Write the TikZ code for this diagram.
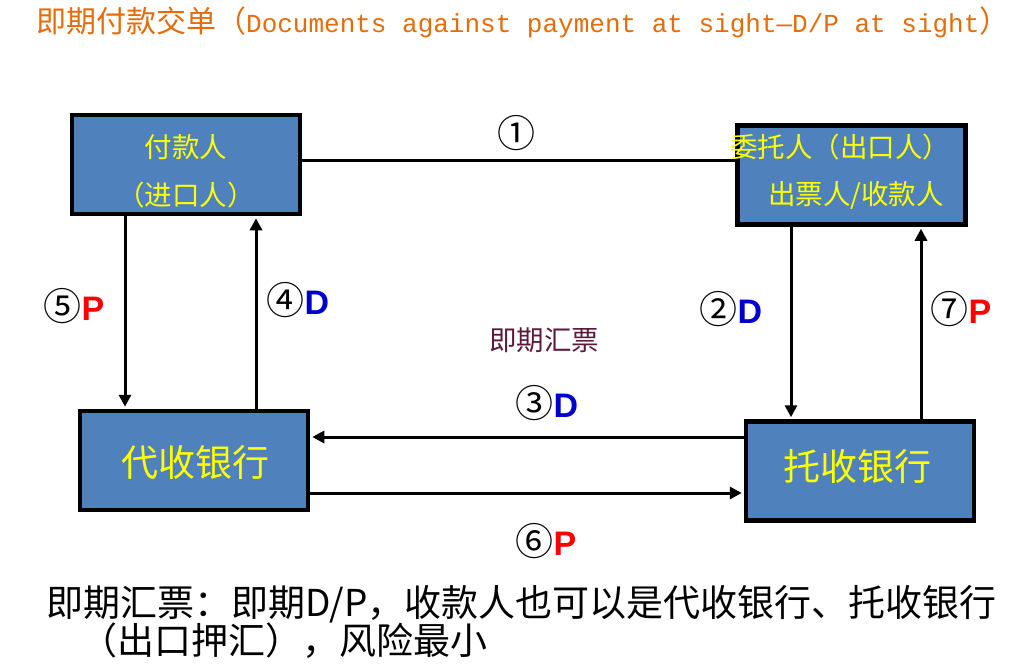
\documentclass[tikz,border=0pt]{standalone}
\usepackage{fontspec}
\usetikzlibrary{arrows.meta}
\setmainfont{Noto Sans CJK SC}
\newfontfamily\cjk{Noto Sans CJK SC}
\newfontfamily\titlemono{Liberation Mono}
\newfontfamily\arialfont{Liberation Sans}
\definecolor{boxblue}{HTML}{4F81BD}
\definecolor{boxtext}{HTML}{FFFF00}
\definecolor{titleorange}{HTML}{E46C0A}
\definecolor{draftred}{HTML}{5B1A3C}
\definecolor{docred}{HTML}{FF0000}
\definecolor{docblue}{HTML}{0000CC}
\newcommand{\docP}{\textcolor{docred}{\arialfont\bfseries\fontsize{34}{34}\selectfont P}}
\newcommand{\docD}{\textcolor{docblue}{\arialfont\bfseries\fontsize{34}{34}\selectfont D}}
\begin{document}
\begin{tikzpicture}[x=1pt,y=-1pt,
  party/.style={draw=black,line width=4.5pt,fill=boxblue,minimum width=228pt,minimum height=99pt,inner sep=0pt},
  partytext/.style={text=boxtext,font=\cjk\fontsize{27.5}{27.5}\selectfont,inner sep=0pt},
  banktext/.style={text=boxtext,font=\cjk\fontsize{37}{37}\selectfont,inner sep=0pt},
  steplabel/.style={font=\fontsize{38}{38}\selectfont,inner sep=0pt},
  flow/.style={line width=3pt,-{Triangle[width=12pt,length=12pt]},shorten >=2pt}]
\useasboundingbox (0,0) rectangle (1036,670);
% title
\node[anchor=west,inner sep=0pt,text=titleorange] (title) at (36,22)
  {\fontsize{30}{30}\selectfont\cjk 即期付款交单（\titlemono\fontsize{26}{26}\selectfont Documents against payment at sight—D/P at sight\cjk\fontsize{30}{30}\selectfont）};
% the four parties
\node[party] (payer) at (186,164.5) {};
\node[party] (drawer) at (851.5,175) {};
\node[party] (coll) at (194,460.5) {};
\node[party] (remit) at (860,471) {};
\node[partytext] (payer1) at (186,147) {付款人};
\node[partytext] (payer2) at (186,195) {（进口人）};
\node[partytext] (drawer1) at (840,147) {委托人（出口人）};
\node[partytext] (drawer2) at (856,195) {出票人/收款人};
\node[banktext] (collname) at (195,462) {代收银行};
\node[banktext] (remitname) at (857,466) {托收银行};
% flows
\draw[line width=3pt] (payer.east |- 0,160) -- (drawer.west |- 0,160);
\draw[flow] (payer.south -| 125,0) -- (coll.north -| 125,0);
\draw[flow] (coll.north -| 256,0) -- (payer.south -| 256,0);
\draw[flow] (drawer.south -| 791,0) -- (remit.north -| 791,0);
\draw[flow] (remit.north -| 921,0) -- (drawer.south -| 921,0);
\draw[flow] (remit.west |- 0,437) -- (coll.east |- 0,437);
\draw[flow] (coll.east |- 0,493) -- (remit.west |- 0,493);
% labels
\node[steplabel] (s1) at (516,133) {①};
\node[steplabel] (s5) at (74,306) {⑤\docP};
\node[steplabel] (s4) at (298,300) {④\docD};
\node[steplabel] (s2) at (731,309) {②\docD};
\node[steplabel] (s7) at (961,309) {⑦\docP};
\node[steplabel] (s3) at (547,403) {③\docD};
\node[steplabel] (s6) at (546,541) {⑥\docP};
\node[inner sep=0pt,text=draftred,font=\cjk\fontsize{27.5}{27.5}\selectfont] (draft) at (544,340) {即期汇票};
% note
\node[anchor=west,inner sep=0pt,font=\cjk\fontsize{37}{37}\selectfont] (note1) at (46,604) {即期汇票：即期D/P，收款人也可以是代收银行、托收银行};
\node[anchor=west,inner sep=0pt,font=\cjk\fontsize{37}{37}\selectfont] (note2) at (80,641) {（出口押汇），风险最小};
\end{tikzpicture}
\end{document}
